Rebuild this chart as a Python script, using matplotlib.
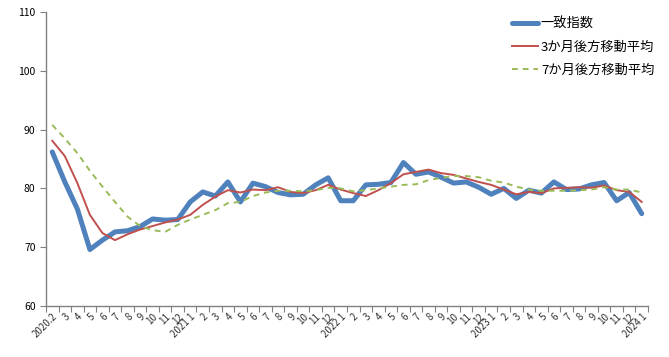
import numpy as np
import matplotlib
matplotlib.use("Agg")
import matplotlib.pyplot as plt

plt.rcParams['font.family'] = ['Noto Sans CJK JP', 'DejaVu Sans']

# month labels 2020.2 - 2024.1
months = ["2020.2", "3", "4", "5", "6", "7", "8", "9", "10", "11", "12",
          "2021 1", "2", "3", "4", "5", "6", "7", "8", "9", "10", "11", "12",
          "2022 1", "2", "3", "4", "5", "6", "7", "8", "9", "10", "11", "12",
          "2023 1", "2", "3", "4", "5", "6", "7", "8", "9", "10", "11", "12",
          "2024 1"]

# coincident index
coincident = [86.2, 81.1, 76.5, 69.6, 71.2, 72.6, 72.8, 73.5, 74.8, 74.6, 74.7,
              77.7, 79.4, 78.7, 81.1, 77.7, 80.9, 80.3, 79.3, 78.9, 79.0, 80.6, 81.8,
              77.9, 77.9, 80.6, 80.7, 81.0, 84.4, 82.4, 82.8, 81.9, 80.9, 81.1, 80.2,
              79.0, 80.0, 78.3, 79.7, 79.2, 81.1, 79.8, 79.9, 80.6, 81.0, 77.9, 79.3,
              75.7]

# 3-month backward moving average
ma3 = [88.1, 85.5, 80.9, 75.5, 72.4, 71.2, 72.2, 73.0, 73.6, 74.2, 74.7,
       75.5, 77.2, 78.6, 79.7, 79.3, 79.8, 79.7, 80.2, 79.4, 79.2, 79.7, 80.6,
       79.8, 79.2, 78.7, 79.7, 80.9, 82.4, 82.8, 83.2, 82.6, 82.3, 81.7, 81.1,
       80.6, 79.8, 79.0, 79.4, 79.2, 80.0, 80.1, 80.2, 80.1, 80.5, 79.7, 79.4,
       77.7]

# 7-month backward moving average
ma7 = [90.8, 88.5, 86.0, 83.0, 80.3, 77.7, 75.2, 73.6, 72.9, 72.6, 73.8,
       74.7, 75.5, 76.3, 77.5, 77.7, 78.7, 79.3, 79.6, 79.6, 79.5, 79.7, 80.1,
       80.0, 79.5, 79.7, 80.0, 80.3, 80.6, 80.7, 81.4, 81.8, 82.1, 82.1, 81.9,
       81.3, 81.0, 80.3, 79.8, 79.6, 79.6, 79.6, 79.7, 79.8, 80.2, 79.8, 79.8,
       79.3]

x = np.arange(len(months))

fig = plt.figure(figsize=(6.69, 3.57), dpi=100)
ax = fig.add_axes([46 / 669, 1 - 306 / 357, 602 / 669, 294 / 357])

ax.plot(x, coincident, color='#4F81BD', lw=3.6, label='一致指数', solid_capstyle='round')
ax.plot(x, ma3, color='#C0504D', lw=1.4, label='3か月後方移動平均')
ax.plot(x, ma7, color='#9BBB59', lw=1.4, ls=(0, (3, 2.5)), label='7か月後方移動平均')

ax.set_xlim(-0.5, len(months) - 0.5)
ax.set_ylim(60, 110)
ax.set_yticks(range(60, 111, 10))

# category ticks between months, labels centred on months
ax.set_xticks(np.arange(len(months) + 1) - 0.5)
ax.set_xticklabels([])
ax.set_xticks(x, minor=True)
ax.set_xticklabels(months, minor=True, rotation=45, ha='right', va='top',
                   rotation_mode='anchor', fontsize=7, color='#333333')
ax.tick_params(axis='x', which='minor', length=0, pad=4)
ax.tick_params(axis='x', which='major', length=4, color='#808080', direction='out')
ax.tick_params(axis='y', length=4, color='#808080', labelsize=7.5, direction='out')

for s in ['top', 'right']:
    ax.spines[s].set_visible(False)
for s in ['left', 'bottom']:
    ax.spines[s].set_color('#808080')
    ax.spines[s].set_linewidth(1.0)

leg = ax.legend(loc='upper right', bbox_to_anchor=(1.03, 1.02), frameon=False,
                fontsize=9.5, handlelength=2.0, labelspacing=0.75, handletextpad=0.2)

fig.savefig('out.png', dpi=100)
